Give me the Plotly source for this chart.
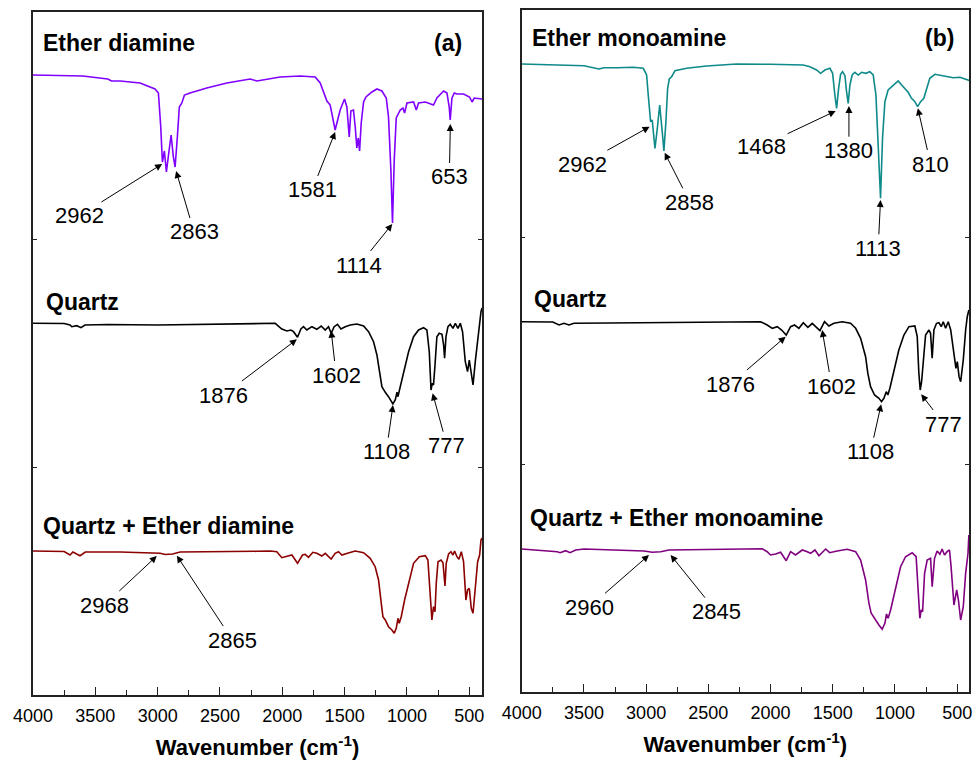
import plotly.graph_objects as go

# ---------------- data (transmittance in arbitrary, offset units) -------------
ed_wn = [4000, 3730, 3600, 3400, 3370, 3300, 3200, 3141, 3021, 2994, 2975, 2962, 2946, 2930, 2911, 2892,
         2874, 2860, 2842, 2826, 2806, 2785, 2740, 2606, 2445, 2258, 2204, 2017, 1857, 1736, 1696, 1642,
         1616, 1576, 1536, 1501, 1482, 1463, 1450, 1429, 1415, 1402, 1391, 1380, 1367, 1348, 1329, 1281,
         1241, 1201, 1166, 1148, 1129, 1116, 1102, 1086, 1054, 1032, 1019, 1000, 947, 925, 907, 853, 787,
         760, 706, 679, 661, 653, 639, 620, 599, 546, 498, 478, 460, 398]
ed_t = [620, 619.7, 619, 616, 614, 614, 613, 612, 606, 602, 568, 533, 544, 523, 542, 560,
        538, 528, 558, 588, 592, 600, 602, 607, 612, 616, 614, 618, 619, 618, 612, 594,
        590, 565, 585, 596, 588, 558, 584, 585, 568, 547, 557, 544, 572, 593, 598, 603,
        606, 604, 597, 578, 525, 472, 535, 577, 585, 587, 582, 592, 593, 585, 592, 593, 590,
        597, 604, 602, 588, 575, 597, 602, 601, 601, 598, 593, 597, 596]

qa_wn = [4000, 3750, 3703, 3689, 3649, 3615, 3583, 3400, 3000, 2500, 2178, 2057, 2004, 1963, 1931, 1910,
         1878, 1851, 1830, 1803, 1763, 1723, 1688, 1656, 1629, 1608, 1584, 1557, 1530, 1495, 1455, 1402,
         1348, 1308, 1268, 1241, 1220, 1201, 1174, 1148, 1113, 1094, 1080, 1072, 1060, 1027, 987, 947,
         907, 867, 840, 821, 807, 797, 787, 775, 760, 741, 719, 706, 698, 687, 671, 653, 631, 612, 591,
         572, 554, 532, 514, 500, 484, 470, 452, 425, 406, 398]
qa_t = [371.7, 371.5, 370, 368.3, 369.3, 367.3, 370, 370.5, 370, 371, 371.7, 371.7, 366, 364, 365, 363.3,
        357.7, 366, 368.3, 365, 368.3, 365.7, 369, 365, 368.3, 361.7, 368.3, 370.7, 366, 368.3, 370, 371,
        369, 363.3, 353.3, 340, 323.3, 308.3, 302.7, 298.3, 291, 295, 302.7, 298.3, 305, 323.3, 343.3, 358.3,
        365, 367.3, 365, 343.3, 305, 311.7, 310, 330, 358.3, 361.7, 360.7, 350, 336.7, 358.3, 368.3, 370.7,
        366.7, 371.7, 366.7, 371.7, 363.3, 333.3, 323.3, 335, 318.3, 310, 333.3, 366.7, 383.3, 387]

qed_wn = [4000, 3750, 3703, 3680, 3623, 3580, 3300, 2980, 2940, 2880, 2820, 2500, 2200, 2097, 2044, 2004,
          1963, 1923, 1878, 1838, 1816, 1790, 1755, 1723, 1683, 1656, 1608, 1576, 1549, 1522, 1477, 1415,
          1348, 1295, 1255, 1228, 1206, 1193, 1174, 1148, 1121, 1102, 1086, 1072, 1062, 1046, 1019, 987,
          947, 901, 853, 832, 813, 800, 787, 775, 765, 751, 727, 711, 695, 685, 666, 647, 631, 618, 599,
          583, 564, 546, 527, 514, 500, 484, 470, 452, 433, 417, 406, 398]
qed_t = [144, 143.5, 140, 143, 139.3, 143, 143, 141.7, 140.5, 141, 143, 143, 143.7, 144, 143.3, 137.3,
         138.3, 140, 131.7, 140, 140.7, 137.7, 142.7, 141.7, 139, 141.7, 136, 141.7, 143.3, 140, 141.7, 144,
         142.3, 136.7, 128.3, 115, 91.7, 78.3, 75, 68.3, 65, 61.7, 66.7, 76.7, 71.7, 78.3, 95, 111.7,
         131.7, 138.3, 139.3, 135, 98.3, 75, 88.3, 83.3, 111.7, 133.3, 135, 132.3, 109, 131.7, 141, 143.3,
         140, 144, 138.3, 135.7, 143.3, 133.3, 95, 105, 106.7, 86.7, 81.7, 105, 133.3, 140, 155, 157]

em_wn = [4000, 3499, 3379, 3339, 3232, 3103, 3023, 2996, 2983, 2964, 2951, 2929, 2910, 2891, 2873, 2857,
         2841, 2827, 2814, 2795, 2768, 2674, 2514, 2273, 2005, 1844, 1737, 1683, 1630, 1598, 1563, 1523,
         1501, 1483, 1469, 1453, 1437, 1421, 1402, 1389, 1376, 1362, 1344, 1322, 1295, 1268, 1234, 1202,
         1175, 1153, 1135, 1116, 1100, 1081, 1055, 1014, 974, 934, 894, 867, 840, 818, 794, 768, 746,
         720, 679, 613, 532, 478, 398]
em_t = [628, 626.3, 623, 624.3, 624.3, 624.7, 623.7, 617, 597, 570.3, 572, 543.7, 563.7, 587, 563.7, 541,
        570.3, 603.7, 613, 615.3, 621.3, 623.7, 626, 628, 627.7, 627.7, 627, 625.3, 622, 618.7, 622, 623.7,
        618.7, 597, 583.7, 603.7, 617.7, 620.3, 616.3, 600.3, 588.7, 607, 617, 619.7, 617, 619.7, 618.7, 620.3,
        617, 597, 553.7, 493.7, 553.7, 590.3, 602, 607, 611, 605.3, 599.7, 593.7, 590.3, 585.3, 590.3, 593.7,
        603.7, 613.7, 617.7, 616.3, 614.3, 614.7, 611.3]

qb_wn = [4000, 3750, 3700, 3660, 3620, 3580, 3300, 2800, 2400, 2080, 2027, 1986, 1946, 1911, 1874, 1839,
         1807, 1772, 1737, 1700, 1665, 1633, 1603, 1566, 1531, 1491, 1424, 1357, 1316, 1276, 1236, 1218,
         1196, 1164, 1129, 1108, 1089, 1070, 1057, 1041, 1009, 969, 928, 888, 840, 821, 808, 797, 786,
         773, 754, 727, 714, 701, 687, 666, 647, 628, 612, 593, 572, 552, 526, 510, 499, 485, 472, 451,
         432, 419, 406]
qb_t = [370.3, 370, 367, 368.7, 367, 368.7, 369, 369.5, 370, 370.3, 367, 363.7, 365.3, 362, 357, 365.3,
        367, 363.7, 369.3, 364.7, 368.7, 364.7, 361.3, 370.3, 366, 368.7, 370.3, 368.7, 363.7, 353.7, 335.3, 318.7,
        305.3, 297, 293.7, 290.3, 293.7, 300.3, 297, 303.7, 322, 342, 357, 365.3, 366, 355.3, 318.7, 302, 310.3,
        328.7, 357, 362, 358.7, 333.7, 362, 368.7, 369.3, 365.3, 370.3, 363.7, 370.3, 362, 335.3, 323.7, 330.3,
        315.3, 310.3, 332, 362, 375.3, 382]

qem_wn = [4000, 3714, 3692, 3646, 3612, 3566, 3499, 3232, 3017, 2951, 2883, 2817, 2428, 2160, 2067, 2027,
          2000, 1959, 1919, 1874, 1839, 1799, 1745, 1705, 1678, 1643, 1611, 1557, 1525, 1464, 1384, 1316,
          1276, 1236, 1209, 1191, 1156, 1129, 1103, 1081, 1068, 1055, 1035, 995, 955, 915, 862, 830, 813,
          800, 789, 778, 762, 741, 714, 701, 682, 661, 639, 621, 602, 581, 562, 549, 526, 504, 490, 472,
          451, 432, 413, 406]
qem_t = [143, 140.3, 139.3, 141.3, 139.3, 142, 143, 142, 141, 139.7, 140.3, 142, 142.7, 143, 143.3, 140.3,
         137, 138, 139.7, 131.3, 140.3, 137, 142, 140.3, 138.7, 142, 136.3, 143, 139.3, 141, 142.7, 140.3,
         132, 112, 88.7, 78.7, 71.3, 67, 62.7, 68.7, 78, 73.7, 82, 105.3, 125.3, 135.3, 139.3, 135.3, 102,
         73.7, 82, 80.3, 118.7, 132, 133.7, 105.3, 133.7, 141, 137.7, 143, 137, 140.3, 142, 125.3, 87, 102, 92, 72,
         85.3, 118.7, 138.7, 157]

# peak labels: (text, head wn, head value, text wn, text value)
peaks_a = [("2962", 2964, 531, 3631, 479), ("2863", 2852, 524, 2708, 463), ("1581", 1576, 563, 1760, 505),
           ("1114", 1118, 471, 1383, 430), ("653", 652, 571, 660, 518),
           ("1876", 1883, 355.7, 2472, 300), ("1602", 1608, 364.3, 1568, 320),
           ("1108", 1112, 290, 1166, 243.3), ("777", 794, 301.7, 679, 249.3),
           ("2968", 3007, 139, 3428, 90), ("2865", 2846, 139.3, 2400, 55)]
peaks_b = [("2962", 2972, 565.3, 3513, 527.7), ("2858", 2851, 539.3, 2648, 489.7),
           ("1468", 1477, 581, 2072, 546), ("1380", 1370, 586, 1370, 541.3),
           ("1113", 1116, 492, 1135, 443.7), ("810", 816, 583.7, 714, 528),
           ("1876", 1879, 355.3, 2321, 308), ("1602", 1585, 362, 1509, 306),
           ("1108", 1111, 287.7, 1196, 240.3), ("777", 789, 297.7, 607, 268),
           ("2960", 2977, 137, 3459, 84.7), ("2845", 2803, 137, 2436, 80.3)]

# sample names: (text, wn, value)
names_a = [("Ether diamine", 3938, 652), ("Quartz", 3909, 393), ("Quartz + Ether diamine", 3938, 169)]
names_b = [("Ether monoamine", 3933, 654), ("Quartz", 3920, 393), ("Quartz + Ether monoamine", 3947, 174)]

x_ticks = [4000, 3500, 3000, 2500, 2000, 1500, 1000, 500]

# ---------------- figure ----------------
FONT = "Arial, Liberation Sans, sans-serif"
fig = go.Figure()

def add(x, y, color, xa, ya):
    fig.add_trace(go.Scatter(x=x, y=y, mode="lines", line=dict(color=color, width=1.6),
                             xaxis=xa, yaxis=ya, showlegend=False, hoverinfo="skip"))

add(ed_wn, ed_t, "#8000FF", "x", "y")
add(qa_wn, qa_t, "#000000", "x", "y")
add(qed_wn, qed_t, "#8B0000", "x", "y")
add(em_wn, em_t, "#0E8A8A", "x2", "y2")
add(qb_wn, qb_t, "#000000", "x2", "y2")
add(qem_wn, qem_t, "#800080", "x2", "y2")

W, H = 974, 762
ann = []
for peaks, xr, yr in ((peaks_a, "x", "y"), (peaks_b, "x2", "y2")):
    for txt, hx, hy, tx, ty in peaks:
        ann.append(dict(text=txt, x=hx, y=hy, ax=tx, ay=ty, xref=xr, yref=yr, axref=xr, ayref=yr,
                        showarrow=True, arrowhead=2, arrowsize=1.4, arrowwidth=1, arrowcolor="black",
                        standoff=0, startstandoff=0,
                        font=dict(family=FONT, size=22, color="black")))
for names, xr, yr in ((names_a, "x", "y"), (names_b, "x2", "y2")):
    for txt, x, y in names:
        ann.append(dict(text="<b>%s</b>" % txt, x=x, y=y, xref=xr, yref=yr, showarrow=False,
                        xanchor="left", yanchor="middle", font=dict(family=FONT, size=23, color="black")))
ann.append(dict(text="<b>(a)</b>", x=673, y=651.5, xref="x", yref="y", showarrow=False,
                xanchor="center", yanchor="middle", font=dict(family=FONT, size=23, color="black")))
ann.append(dict(text="<b>(b)</b>", x=641, y=654.3, xref="x2", yref="y2", showarrow=False,
                xanchor="center", yanchor="middle", font=dict(family=FONT, size=23, color="black")))

xcommon = dict(tickvals=x_ticks, ticks="inside", ticklen=8, tickwidth=1.3, tickcolor="#222",
               minor=dict(dtick=250, tick0=4000, ticks="inside", ticklen=5, tickwidth=1.3, tickcolor="#222"),
               showline=True, linewidth=1.5, linecolor="#222", mirror=True, showgrid=False, zeroline=False,
               automargin=False,
               tickfont=dict(family=FONT, size=18, color="black"), ticklabelstandoff=4,
               title=dict(text="<b>Wavenumber (cm<sup>-1</sup>)</b>", standoff=14,
                          font=dict(family=FONT, size=22, color="black")))
ycommon = dict(ticks="inside", ticklen=4, tickwidth=1.3, tickcolor="#222", showticklabels=False,
               automargin=False,
               showline=True, linewidth=1.5, linecolor="#222", mirror="ticks", showgrid=False, zeroline=False)

fig.update_layout(
    width=W, height=H, margin=dict(l=0, r=0, t=0, b=0, autoexpand=False),
    paper_bgcolor="white", plot_bgcolor="white", showlegend=False,
    xaxis=dict(domain=[33 / W, 482 / W], range=[4000, 398], anchor="y", **xcommon),
    yaxis=dict(domain=[1 - 695 / H, 1 - 12 / H], range=[0, 683], anchor="x",
               tickvals=[683 / 3, 2 * 683 / 3], **ycommon),
    xaxis2=dict(domain=[521.7 / W, 969 / W], range=[4000, 405], anchor="y2", **xcommon),
    yaxis2=dict(domain=[1 - 692 / H, 1 - 10 / H], range=[0, 682], anchor="x2",
                tickvals=[682 / 3, 2 * 682 / 3], **ycommon),
    annotations=ann,
)

fig.write_html("out.html")
